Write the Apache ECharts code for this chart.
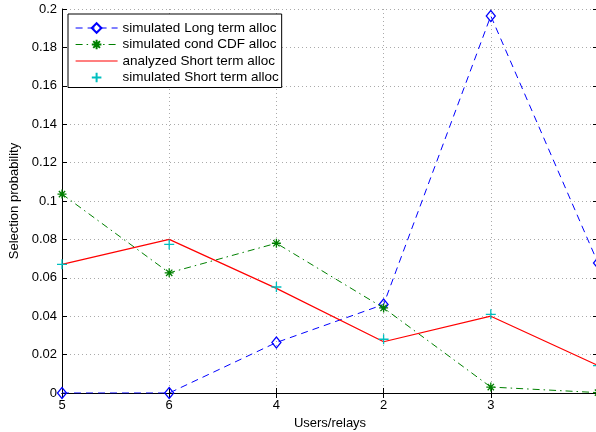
<!DOCTYPE html>
<html>
<head>
<meta charset="utf-8">
<script src="https://cdn.jsdelivr.net/npm/echarts@6/dist/echarts.min.js"></script>
<style>
  html, body { margin: 0; padding: 0; background: #fff; overflow: hidden; }
  #chart { width: 604px; height: 432px; }
</style>
</head>
<body>
<div id="chart"></div>
<script>
// Category order along the x axis (last position has no label)
const categories = ['5', '6', '4', '2', '3', ''];

// Selection probability per scheme
const longTermSim = [0, 0, 0.0263, 0.0461, 0.1964, 0.0677];
const condCdfSim = [0.1036, 0.0626, 0.078, 0.0443, 0.0031, 0.0002];
const shortTermAnalyzed = [0.067, 0.08, 0.0545, 0.0267, 0.04, 0.0143];
const shortTermSim = [0.067, 0.0774, 0.0552, 0.028, 0.041, 0.0143];

// Y axis range and step
const yMin = 0, yMax = 0.2, yStep = 0.02;

const FONT = 'Liberation Sans, Arial, Helvetica, sans-serif';
const BLUE = '#0000ff', GREEN = '#008000', RED = '#ff0000', CYAN = '#00bfbf';

const starPath = 'path://M0,5L10,5M5,0L5,10M1.5,1.5L8.5,8.5M1.5,8.5L8.5,1.5';
const plusPath = 'path://M0,5L10,5M5,0L5,10';
const diamondPath = 'path://M5,0L10,6L5,12L0,6Z';

const gridLine = { show: true, lineStyle: { color: '#aaaaaa', type: [1, 3], width: 1 } };
const frameLine = { show: true, lineStyle: { color: '#000', width: 1 } };
const innerTick = { show: true, inside: true, length: 5, lineStyle: { color: '#000', width: 1 } };

const chart = echarts.init(document.getElementById('chart'), null, { renderer: 'canvas' });

chart.setOption({
  animation: false,
  backgroundColor: '#fff',
  // the plot box runs slightly past the visible right edge
  grid: { left: 62, top: 9, right: 6, bottom: 39, containLabel: false, outerBoundsMode: 'none' },
  legend: {
    orient: 'vertical',
    left: 68,
    top: 14,
    itemWidth: 42,
    itemHeight: 12,
    itemGap: 2.5,
    padding: [7, 3, 3, 7],
    backgroundColor: '#fff',
    borderColor: '#000',
    borderWidth: 1,
    borderRadius: 0,
    textStyle: { fontSize: 13.5, fontFamily: FONT, color: '#000' },
    data: [
      { name: 'simulated Long term alloc', lineStyle: { width: 1 } },
      { name: 'simulated cond CDF alloc', lineStyle: { width: 1 } },
      { name: 'analyzed Short term alloc', lineStyle: { width: 1.2 }, itemStyle: { opacity: 0 } },
      { name: 'simulated Short term alloc' }
    ]
  },
  xAxis: [
    {
      type: 'category',
      data: categories,
      boundaryGap: false,
      position: 'bottom',
      name: 'Users/relays',
      nameLocation: 'middle',
      nameGap: 21,
      nameTextStyle: { fontSize: 13, fontFamily: FONT, color: '#000' },
      axisLine: frameLine,
      axisTick: innerTick,
      axisLabel: { fontSize: 13, fontFamily: FONT, color: '#000', margin: 6, interval: 0 },
      splitLine: gridLine
    },
    {
      type: 'category',
      data: categories,
      boundaryGap: false,
      position: 'top',
      axisLine: frameLine,
      axisTick: innerTick,
      axisLabel: { show: false },
      splitLine: { show: false }
    }
  ],
  yAxis: [
    {
      type: 'value',
      min: yMin,
      max: yMax,
      interval: yStep,
      position: 'left',
      name: 'Selection probability',
      nameLocation: 'middle',
      nameGap: 31,
      nameTextStyle: { fontSize: 13, fontFamily: FONT, color: '#000' },
      axisLine: frameLine,
      axisTick: innerTick,
      axisLabel: {
        fontSize: 13, fontFamily: FONT, color: '#000', margin: 5,
        formatter: v => String(parseFloat(v.toFixed(2)))
      },
      splitLine: gridLine
    },
    {
      type: 'value',
      min: yMin,
      max: yMax,
      interval: yStep,
      position: 'right',
      axisLine: frameLine,
      axisTick: innerTick,
      axisLabel: { show: false },
      splitLine: { show: false }
    }
  ],
  series: [
    {
      name: 'simulated Long term alloc',
      type: 'line',
      data: longTermSim,
      symbol: diamondPath,
      symbolSize: [9, 11],
      showAllSymbol: true,
      lineStyle: { color: BLUE, width: 1, type: [7, 5] },
      itemStyle: { color: 'rgba(255,255,255,0)', borderColor: BLUE, borderWidth: 1.3 },
      z: 2
    },
    {
      name: 'simulated cond CDF alloc',
      type: 'line',
      data: condCdfSim,
      symbol: starPath,
      symbolSize: 9,
      showAllSymbol: true,
      lineStyle: { color: GREEN, width: 1, type: [7, 4, 1.5, 4] },
      itemStyle: { color: GREEN, borderColor: GREEN, borderWidth: 1.3 },
      z: 3
    },
    {
      name: 'analyzed Short term alloc',
      type: 'line',
      data: shortTermAnalyzed,
      symbol: 'none',
      lineStyle: { color: RED, width: 1.2, type: 'solid' },
      itemStyle: { color: RED },
      z: 4
    },
    {
      name: 'simulated Short term alloc',
      type: 'line',
      data: shortTermSim,
      symbol: plusPath,
      symbolSize: 10,
      showAllSymbol: true,
      lineStyle: { color: CYAN, width: 0, opacity: 0 },
      itemStyle: { color: CYAN, borderColor: CYAN, borderWidth: 1.3 },
      z: 5
    }
  ]
});
</script>
</body>
</html>
